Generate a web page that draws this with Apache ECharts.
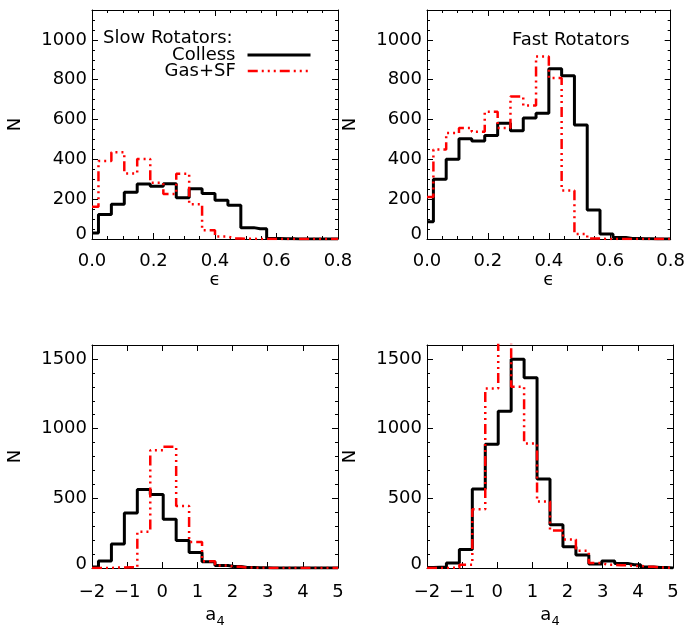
<!DOCTYPE html>
<html>
<head>
<meta charset="utf-8">
<script src="https://cdn.jsdelivr.net/npm/echarts@6/dist/echarts.min.js"></script>
<style>html,body{margin:0;padding:0;background:#fff;}#c{width:688px;height:629px;}</style>
</head>
<body>
<div id="c"></div>
<script>
// bin centres
const epsX = [0,0.042,0.084,0.126,0.168,0.211,0.253,0.295,0.337,0.379,0.421,0.463,0.505,0.547,0.589,0.632,0.674,0.716,0.758,0.8];
const a4X = [-2,-1.632,-1.263,-0.895,-0.526,-0.158,0.211,0.579,0.947,1.316,1.684,2.053,2.421,2.789,3.158,3.526,3.895,4.263,4.632,5];

// counts
const slowEpsColless = [30,123,174,235,276,265,277,207,252,228,195,170,57,51,3,1,0,0,0,0];
const slowEpsGas     = [162,392,436,329,402,282,226,328,175,44,12,3,1,0,0,0,0,0,0,0];
const fastEpsColless = [87,300,400,504,492,520,581,543,608,632,855,820,572,146,25,8,3,1,0,0];
const fastEpsGas     = [211,450,532,558,538,639,558,716,670,916,808,244,25,2,0,0,0,0,0,0];
const slowA4Colless  = [8,51,172,395,563,528,350,197,111,45,18,11,4,1,0,0,0,0,0,0];
const slowA4Gas      = [0,0,3,5,260,845,870,444,187,49,18,9,3,1,0,0,0,0,0,0];
const fastA4Colless  = [3,5,35,133,566,888,1124,1498,1365,639,311,152,93,28,51,33,23,7,3,0];
const fastA4Gas      = [0,0,2,23,421,1288,1750,1300,893,477,269,204,123,35,23,20,15,9,3,0];

const epsTicks = [0, 0.8, 0.2];
const a4Ticks = [-2, 5, 1];

const FONT = "'DejaVu Sans', sans-serif";
const chart = echarts.init(document.getElementById('c'), null, {renderer: 'canvas'});

const grids = [
  {left: 92, top: 10, width: 246, height: 229},
  {left: 427, top: 10, width: 246, height: 229},
  {left: 92, top: 345, width: 246, height: 228},
  {left: 427, top: 345, width: 246, height: 228}
];

const black = {color: '#000'};
function xAxes(g, t, isEps) {
  const common = {
    type: 'value', gridIndex: g, min: t[0], max: t[1], interval: t[2],
    axisLine: {show: true, onZero: false, lineStyle: {color: '#000', width: 1}},
    axisTick: {show: true, inside: true, length: 6, lineStyle: black},
    minorTick: {show: isEps, splitNumber: 4, length: 3, lineStyle: black},
    splitLine: {show: false}, minorSplitLine: {show: false}
  };
  const bottom = Object.assign({}, common, {
    position: 'bottom',
    axisLabel: {
      show: true, margin: isEps ? 13 : 15, color: '#000', fontSize: 18, fontFamily: FONT,
      showMaxLabel: true, showMinLabel: true,
      formatter: v => isEps ? v.toFixed(1) : (v < 0 ? '\u2212' + Math.abs(v) : String(Math.round(v)))
    },
    name: isEps ? '\u03f5' : '{a|a}{s|4}',
    nameLocation: 'middle', nameGap: isEps ? 28 : 34,
    nameTextStyle: {
      color: '#000', fontSize: 18, fontFamily: FONT,
      rich: {
        a: {fontSize: 18, fontFamily: FONT, color: '#000', verticalAlign: 'middle', lineHeight: 26},
        s: {fontSize: 13, fontFamily: FONT, color: '#000', verticalAlign: 'bottom', lineHeight: 26}
      }
    }
  });
  const top = Object.assign({}, common, {position: 'top', axisLabel: {show: false}});
  return [bottom, top];
}
function yAxes(g, max, interval, minor, zpad) {
  const common = {
    type: 'value', gridIndex: g, min: 0, max: max, interval: interval,
    axisLine: {show: true, onZero: false, lineStyle: {color: '#000', width: 1}},
    axisTick: {show: true, inside: true, length: 6, lineStyle: black},
    minorTick: {show: true, splitNumber: minor, length: 3, lineStyle: black},
    splitLine: {show: false}, minorSplitLine: {show: false}
  };
  const left = Object.assign({}, common, {
    position: 'left',
    axisLabel: {
      show: true, margin: 5, color: '#000', fontSize: 18, fontFamily: FONT,
      showMaxLabel: false,
      formatter: v => v === 0 ? '{z|0}' : String(v),
      rich: {z: {fontSize: 18, fontFamily: FONT, color: '#000', padding: [0, 0, zpad, 0]}}
    },
    name: 'N', nameLocation: 'middle', nameGap: 68,
    nameTextStyle: {color: '#000', fontSize: 18, fontFamily: FONT}
  });
  const right = Object.assign({}, common, {position: 'right', axisLabel: {show: false}});
  return [left, right];
}

const xAxis = [].concat(xAxes(0, epsTicks, true), xAxes(1, epsTicks, true), xAxes(2, a4Ticks, false), xAxes(3, a4Ticks, false));
const yAxis = [].concat(yAxes(0, 1150, 200, 4, 10), yAxes(1, 1150, 200, 4, 10), yAxes(2, 1600, 500, 5, 8), yAxes(3, 1600, 500, 5, 8));

function pairs(xs, ys) { return xs.map((x, i) => [x, ys[i]]); }
const blackStyle = {color: '#000', width: 3, type: 'solid'};
const redStyle = {color: '#ff0000', width: 2.5, type: [10, 4, 2, 4, 2, 4, 2, 4]};
function ser(name, g, xs, ys, style, z) {
  return {
    name: name, type: 'line', xAxisIndex: 2 * g, yAxisIndex: 2 * g,
    step: 'middle', data: pairs(xs, ys), symbol: 'none', showSymbol: false,
    lineStyle: style, itemStyle: {color: style.color}, clip: true, z: z,
    emphasis: {disabled: true}
  };
}
const series = [
  ser('Colless', 0, epsX, slowEpsColless, blackStyle, 2),
  ser('Gas+SF', 0, epsX, slowEpsGas, redStyle, 3),
  ser('Colless', 1, epsX, fastEpsColless, blackStyle, 2),
  ser('Gas+SF', 1, epsX, fastEpsGas, redStyle, 3),
  ser('Colless', 2, a4X, slowA4Colless, blackStyle, 2),
  ser('Gas+SF', 2, a4X, slowA4Gas, redStyle, 3),
  ser('Colless', 3, a4X, fastA4Colless, blackStyle, 2),
  ser('Gas+SF', 3, a4X, fastA4Gas, redStyle, 3)
];

const legendCommon = {
  orient: 'horizontal', align: 'right', right: 376, itemWidth: 63, itemHeight: 14,
  padding: 0, selectedMode: false,
  itemStyle: {opacity: 0},
  textStyle: {color: '#000', fontSize: 18, fontFamily: FONT, padding: [0, 7, 0, 0]}
};

chart.setOption({
  animation: false,
  backgroundColor: '#fff',
  grid: grids,
  xAxis: xAxis,
  yAxis: yAxis,
  series: series,
  title: [
    {text: 'Slow Rotators:', left: 103, top: 29, padding: 0,
     textStyle: {color: '#000', fontSize: 18, fontWeight: 'normal', fontFamily: FONT}},
    {text: 'Fast Rotators', left: 512, top: 31, padding: 0,
     textStyle: {color: '#000', fontSize: 18, fontWeight: 'normal', fontFamily: FONT}}
  ],
  legend: [
    Object.assign({}, legendCommon, {data: ['Colless'], top: 46, lineStyle: {width: 3}}),
    Object.assign({}, legendCommon, {data: ['Gas+SF'], top: 62, lineStyle: {width: 2.5}})
  ]
});
</script>
</body>
</html>
